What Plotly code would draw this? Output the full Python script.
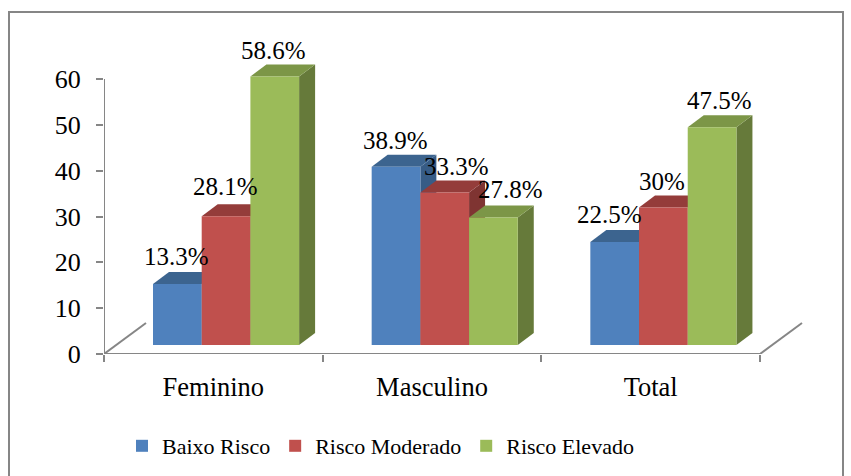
import plotly.graph_objects as go

categories = ["Feminino", "Masculino", "Total"]
series_names = ["Baixo Risco", "Risco Moderado", "Risco Elevado"]
baixo_risco = [13.3, 38.9, 22.5]
risco_moderado = [28.1, 33.3, 30.0]
risco_elevado = [58.6, 27.8, 47.5]
label_text = [["13.3%", "38.9%", "22.5%"], ["28.1%", "33.3%", "30%"], ["58.6%", "27.8%", "47.5%"]]
y_ticks = [0, 10, 20, 30, 40, 50, 60]

# style
series_values = [baixo_risco, risco_moderado, risco_elevado]
front = ["#4F81BD", "#C0504D", "#9BBB59"]
top_c = ["#3C648F", "#943C3A", "#7C9647"]
side_c = ["#375C86", "#7F3432", "#667A3A"]
axis_c = "#868686"
FONT = "Liberation Serif"
W, H = 851, 476
L, R, T, B = 104, 815, 20, 354
PX_X = (760 - 104) / 3      # px per category
PX_Y = (354 - 79) / 60      # px per unit
BAR_W = 48.7 / PX_X
FIRST = (153 - 104) / PX_X  # first bar offset in the category
DX, DY = 16 / PX_X, 12 / PX_Y  # 3D depth
BASE = 9 / PX_Y             # lift of the front faces above the axis
FLOOR_DX, FLOOR_DY = 42 / PX_X, 31 / PX_Y
# label nudges from the top of each front face (px), [series][category]
nudge_x = [[-1, -1, -5], [-1, 12, -1], [-1, 17, 7]]
nudge_y = [[28, 26, 27], [30, 26, 26], [26, 28, 27]]

fig = go.Figure()


def poly(xs, ys, color):
    fig.add_trace(go.Scatter(x=xs + xs[:1], y=ys + ys[:1], mode="lines", fill="toself",
                             fillcolor=color, line=dict(width=0, color=color),
                             showlegend=False, hoverinfo="skip"))


# floor and axis lines
for xs, ys in [([0, 0], [0, 60]), ([0, 3], [0, 0]),
               ([0, FLOOR_DX], [0, FLOOR_DY]), ([3, 3 + FLOOR_DX], [0, FLOOR_DY])]:
    fig.add_trace(go.Scatter(x=xs, y=ys, mode="lines", line=dict(color=axis_c, width=2),
                             showlegend=False, hoverinfo="skip", cliponaxis=False))

annotations = []
for c in range(len(categories)):
    for s in range(len(series_names)):
        v = series_values[s][c]
        x0 = c + FIRST + s * BAR_W
        x1 = x0 + BAR_W
        y0 = BASE
        y1 = BASE + v
        poly([x1, x1 + DX, x1 + DX, x1], [y0, y0 + DY, y1 + DY, y1], side_c[s])
        poly([x0, x1, x1 + DX, x0 + DX], [y1, y1, y1 + DY, y1 + DY], top_c[s])
        poly([x0, x1, x1, x0], [y0, y0, y1, y1], front[s])
        annotations.append(dict(x=(x0 + x1) / 2, y=y1, text=label_text[s][c], showarrow=False,
                                xshift=nudge_x[s][c], yshift=nudge_y[s][c],
                                font=dict(family=FONT, size=25, color="#000000"),
                                xanchor="center", yanchor="middle"))

for name, color in zip(series_names, front):
    fig.add_trace(go.Scatter(x=[None], y=[None], mode="markers", name=name,
                             marker=dict(symbol="square", size=12, color=color)))

plot_w, plot_h = R - L, B - T


def paper_y(page_y):
    return (B - page_y) / plot_h


def paper_x(page_x):
    return (page_x - L) / plot_w


fig.update_layout(
    width=W, height=H, autosize=False,
    margin=dict(l=L, r=W - R, t=T, b=H - B, pad=0),
    paper_bgcolor="white", plot_bgcolor="white",
    font=dict(family=FONT, color="#000000"),
    xaxis=dict(range=[0, plot_w / PX_X], tickvals=[0.5, 1.5, 2.5], ticktext=categories,
               ticks="", ticklabelstandoff=14, showgrid=False, zeroline=False, showline=False,
               tickfont=dict(size=26.5, family=FONT),
               minor=dict(tickvals=[0, 1, 2, 3], ticks="outside", ticklen=7, tickwidth=2,
                          tickcolor=axis_c, showgrid=False)),
    yaxis=dict(range=[0, plot_h / PX_Y], tickvals=y_ticks,
               ticks="outside", ticklen=7, tickwidth=2,
               tickcolor=axis_c, ticklabelstandoff=10, showgrid=False, zeroline=False, showline=False,
               tickfont=dict(size=26, family=FONT)),
    legend=dict(orientation="h", xref="container", yref="container",
                x=122 / W, xanchor="left", y=(H - 425) / H, yanchor="top",
                font=dict(size=22, family=FONT), bgcolor="rgba(0,0,0,0)"),
    annotations=annotations,
    shapes=[dict(type="rect", xref="paper", yref="paper",
                 x0=paper_x(9), x1=paper_x(843),
                 y0=paper_y(520), y1=paper_y(12),
                 line=dict(color=axis_c, width=2), layer="below")],
)
fig.write_html("out.html", config={"displayModeBar": False},
               post_script="document.body.style.margin='0';document.documentElement.style.overflow='hidden';")
